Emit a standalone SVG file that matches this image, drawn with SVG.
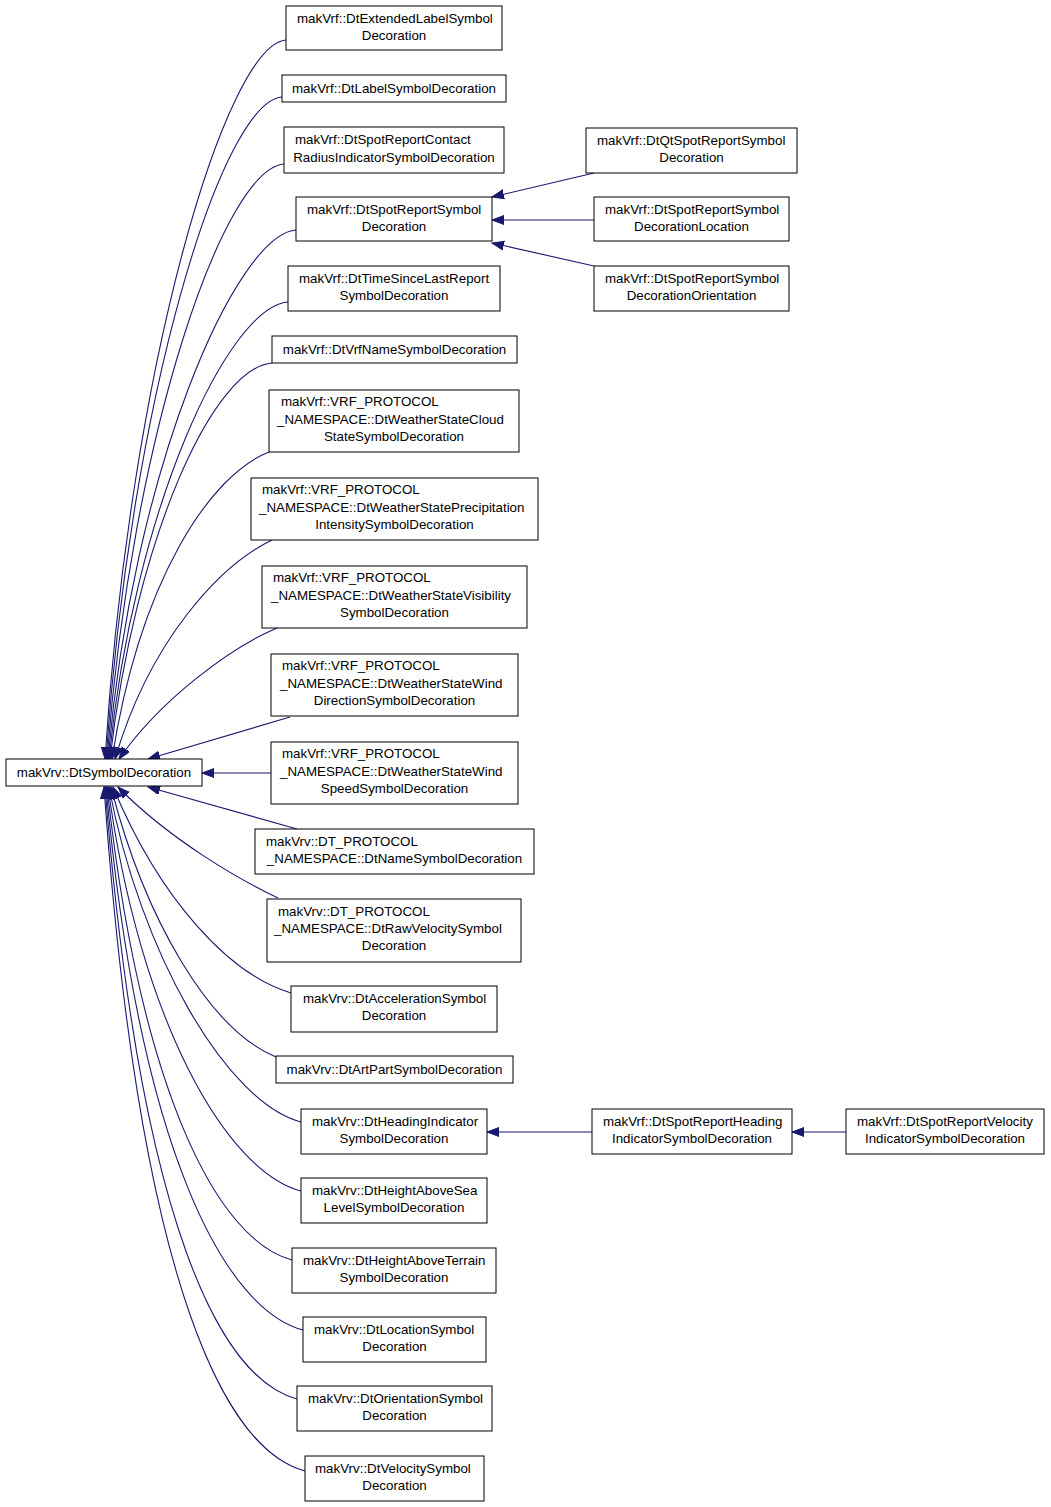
<svg xmlns="http://www.w3.org/2000/svg" width="1051" height="1507" viewBox="0 0 1051 1507">
<style>
.n rect{fill:#fff;stroke:#000;stroke-width:1}
.n text{font-family:"Liberation Sans",Arial,sans-serif;font-size:13.33px;fill:#000}
.c{text-anchor:middle}
.e path{fill:none;stroke:#191970;stroke-width:1.1;marker-end:url(#arr)}
</style>
<defs>
<marker id="arr" markerUnits="userSpaceOnUse" markerWidth="14" markerHeight="11" refX="12" refY="4.5" orient="auto">
<path d="M0,0 L12,4.5 L0,9 z" fill="#191970" stroke="#191970" stroke-width="1"/>
</marker>
</defs>
<rect width="1051" height="1507" fill="#fff"/>
<g class="e" id="edges">
<path d="M286,40 C226,45 130,364 105,759"/>
<path d="M282,97 C222,102 131,395 106,759"/>
<path d="M284,164 C224,169 132,432 107,759"/>
<path d="M296,230 C236,235 133,468 108,759"/>
<path d="M288,302 C228,307 134,508 109,759"/>
<path d="M272,363 C212,368 135,541 110,759"/>
<path d="M269,452 C210,475 140,580 112,759"/>
<path d="M272,540 C220,565 150,640 115,759"/>
<path d="M277,628 C230,648 160,700 119,759"/>
<path d="M290,717 L148,759"/>
<path d="M271,773 L202,773"/>
<path d="M297,829 L148,787"/>
<path d="M278,898 C240,880 170,840 118,787"/>
<path d="M291,993 C230,975 160,900 113,787"/>
<path d="M276,1057 C210,1030 145,920 111,787"/>
<path d="M301,1122 C226,1102 140,952 109,787"/>
<path d="M301,1191 C226,1171 140,1021 108,787"/>
<path d="M292,1260 C217,1240 140,1090 107,787"/>
<path d="M303,1330 C228,1310 140,1160 106,787"/>
<path d="M297,1399 C222,1379 140,1229 105,787"/>
<path d="M305,1471 C230,1451 140,1301 104,787"/>
<path d="M594,173 L492,197"/>
<path d="M594,220 L492,220"/>
<path d="M594,266 L492,243"/>
<path d="M592,1132 L487,1132"/>
<path d="M846,1132 L792,1132"/>
</g>
<g class="n" id="root"><rect x="6" y="759" width="196" height="27"/><text class="c" x="104" y="777">makVrv::DtSymbolDecoration</text></g>
<g class="n" id="n1"><rect x="286" y="6" width="216" height="44"/><text x="297" y="23">makVrf::DtExtendedLabelSymbol</text><text class="c" x="394" y="40">Decoration</text></g>
<g class="n" id="n2"><rect x="282" y="75" width="224" height="27"/><text class="c" x="394" y="93">makVrf::DtLabelSymbolDecoration</text></g>
<g class="n" id="n3"><rect x="284" y="127" width="220" height="46"/><text x="295" y="144">makVrf::DtSpotReportContact</text><text class="c" x="394" y="162">RadiusIndicatorSymbolDecoration</text></g>
<g class="n" id="n4"><rect x="296" y="197" width="196" height="44"/><text x="307" y="214">makVrf::DtSpotReportSymbol</text><text class="c" x="394" y="231">Decoration</text></g>
<g class="n" id="n5"><rect x="288" y="266" width="212" height="45"/><text x="299" y="283">makVrf::DtTimeSinceLastReport</text><text class="c" x="394" y="300">SymbolDecoration</text></g>
<g class="n" id="n6"><rect x="272" y="336" width="245" height="27"/><text class="c" x="394.5" y="354">makVrf::DtVrfNameSymbolDecoration</text></g>
<g class="n" id="n7"><rect x="269" y="390" width="250" height="62"/><text x="281" y="406">makVrf::VRF_PROTOCOL</text><text x="277" y="424">_NAMESPACE::DtWeatherStateCloud</text><text class="c" x="394" y="441">StateSymbolDecoration</text></g>
<g class="n" id="n8"><rect x="251" y="478" width="287" height="62"/><text x="262" y="494">makVrf::VRF_PROTOCOL</text><text x="259" y="512">_NAMESPACE::DtWeatherStatePrecipitation</text><text class="c" x="394.5" y="529">IntensitySymbolDecoration</text></g>
<g class="n" id="n9"><rect x="262" y="566" width="265" height="62"/><text x="273" y="582">makVrf::VRF_PROTOCOL</text><text x="271" y="600">_NAMESPACE::DtWeatherStateVisibility</text><text class="c" x="394.5" y="617">SymbolDecoration</text></g>
<g class="n" id="n10"><rect x="271" y="654" width="247" height="62"/><text x="282" y="670">makVrf::VRF_PROTOCOL</text><text x="280" y="688">_NAMESPACE::DtWeatherStateWind</text><text class="c" x="394.5" y="705">DirectionSymbolDecoration</text></g>
<g class="n" id="n11"><rect x="271" y="742" width="247" height="62"/><text x="282" y="758">makVrf::VRF_PROTOCOL</text><text x="280" y="776">_NAMESPACE::DtWeatherStateWind</text><text class="c" x="394.5" y="793">SpeedSymbolDecoration</text></g>
<g class="n" id="n12"><rect x="255" y="829" width="279" height="45"/><text x="266" y="846">makVrv::DT_PROTOCOL</text><text class="c" x="394.5" y="863">_NAMESPACE::DtNameSymbolDecoration</text></g>
<g class="n" id="n13"><rect x="267" y="899" width="254" height="63"/><text x="278" y="916">makVrv::DT_PROTOCOL</text><text x="274" y="933">_NAMESPACE::DtRawVelocitySymbol</text><text class="c" x="394" y="950">Decoration</text></g>
<g class="n" id="n14"><rect x="291" y="986" width="206" height="46"/><text x="303" y="1003">makVrv::DtAccelerationSymbol</text><text class="c" x="394" y="1020">Decoration</text></g>
<g class="n" id="n15"><rect x="276" y="1056" width="237" height="27"/><text class="c" x="394.5" y="1074">makVrv::DtArtPartSymbolDecoration</text></g>
<g class="n" id="n16"><rect x="301" y="1109" width="186" height="45"/><text x="312" y="1126">makVrv::DtHeadingIndicator</text><text class="c" x="394" y="1143">SymbolDecoration</text></g>
<g class="n" id="n17"><rect x="301" y="1178" width="186" height="45"/><text x="312" y="1195">makVrv::DtHeightAboveSea</text><text class="c" x="394" y="1212">LevelSymbolDecoration</text></g>
<g class="n" id="n18"><rect x="292" y="1248" width="204" height="45"/><text x="303" y="1265">makVrv::DtHeightAboveTerrain</text><text class="c" x="394" y="1282">SymbolDecoration</text></g>
<g class="n" id="n19"><rect x="303" y="1317" width="183" height="45"/><text x="314" y="1334">makVrv::DtLocationSymbol</text><text class="c" x="394.5" y="1351">Decoration</text></g>
<g class="n" id="n20"><rect x="297" y="1386" width="195" height="45"/><text x="308" y="1403">makVrv::DtOrientationSymbol</text><text class="c" x="394.5" y="1420">Decoration</text></g>
<g class="n" id="n21"><rect x="305" y="1456" width="179" height="45"/><text x="315" y="1473">makVrv::DtVelocitySymbol</text><text class="c" x="394.5" y="1490">Decoration</text></g>
<g class="n" id="r1"><rect x="586" y="128" width="211" height="45"/><text x="597" y="145">makVrf::DtQtSpotReportSymbol</text><text class="c" x="691.5" y="162">Decoration</text></g>
<g class="n" id="r2"><rect x="594" y="197" width="195" height="44"/><text x="605" y="214">makVrf::DtSpotReportSymbol</text><text class="c" x="691.5" y="231">DecorationLocation</text></g>
<g class="n" id="r3"><rect x="594" y="266" width="195" height="45"/><text x="605" y="283">makVrf::DtSpotReportSymbol</text><text class="c" x="691.5" y="300">DecorationOrientation</text></g>
<g class="n" id="r4"><rect x="592" y="1109" width="200" height="45"/><text x="603" y="1126">makVrf::DtSpotReportHeading</text><text class="c" x="692" y="1143">IndicatorSymbolDecoration</text></g>
<g class="n" id="r5"><rect x="846" y="1109" width="198" height="45"/><text x="857" y="1126">makVrf::DtSpotReportVelocity</text><text class="c" x="945" y="1143">IndicatorSymbolDecoration</text></g>
</svg>
